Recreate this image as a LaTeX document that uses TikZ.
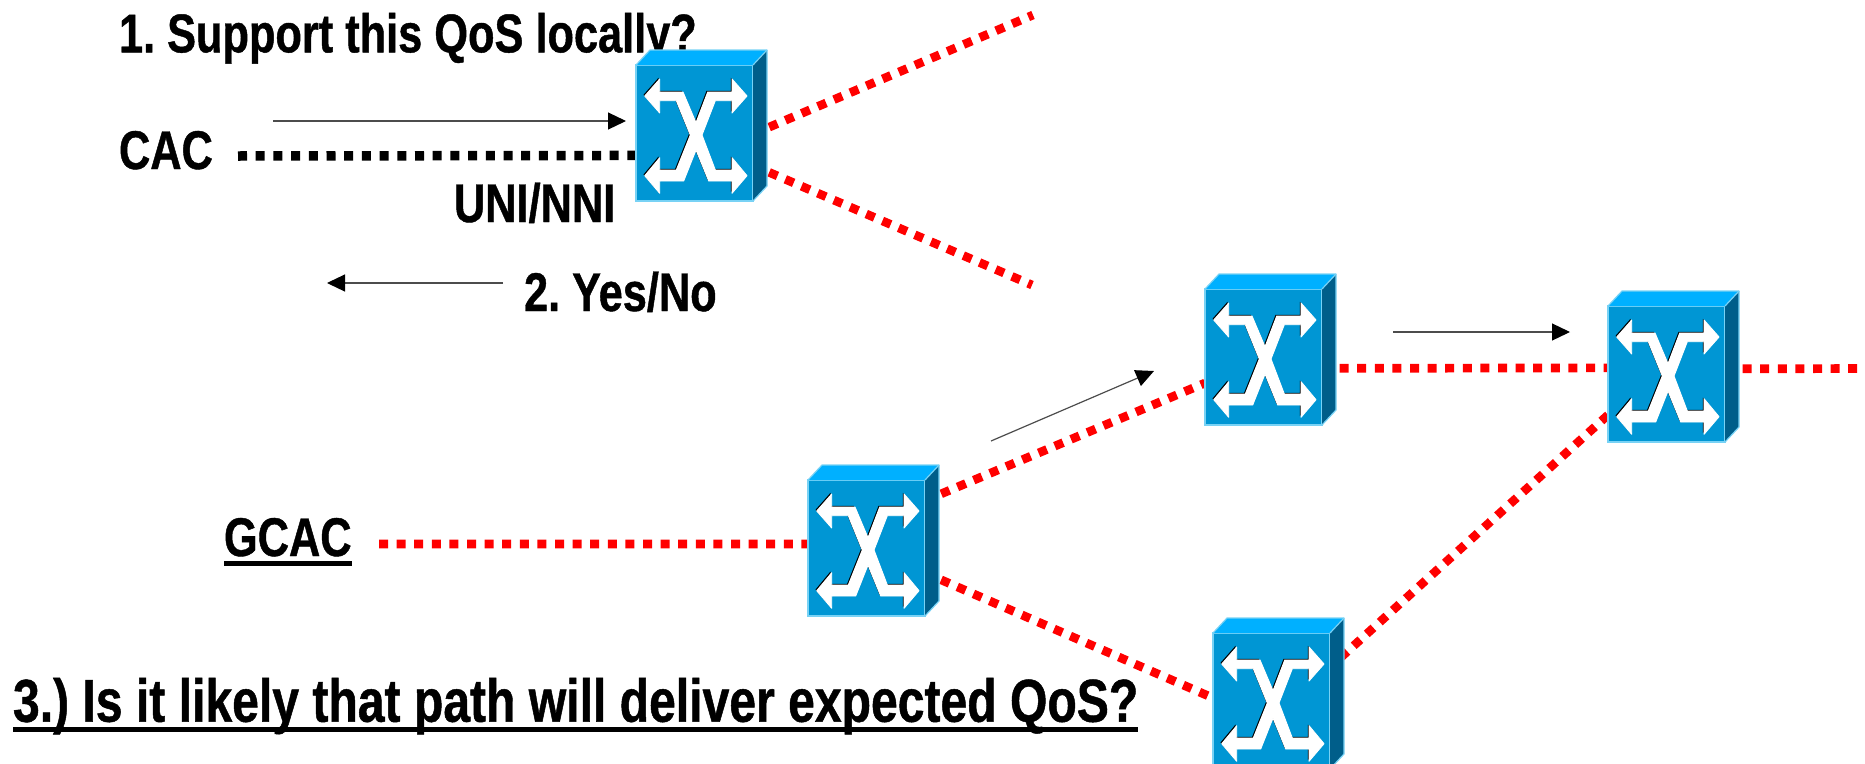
\documentclass[tikz,border=0pt]{standalone}
\usepackage{fontspec}
\setmainfont[FakeStretch=0.795,BoldFeatures={FakeBold=0.8}]{Liberation Sans}
\usetikzlibrary{arrows.meta,backgrounds}
\definecolor{swfront}{RGB}{0,150,212}
\definecolor{swtop}{RGB}{0,176,255}
\definecolor{swside}{RGB}{0,94,138}
\definecolor{swedge}{RGB}{120,210,245}
\tikzset{
  swface/.style={rectangle,minimum width=117pt,minimum height=136pt,inner sep=0pt,outer sep=0pt,fill=swfront,draw=swedge,line width=1.2pt},
  label text/.style={anchor=base west,inner sep=0pt,outer sep=0pt,font=\frenchspacing\bfseries\fontsize{54.5}{60}\selectfont,text=black},
  big text/.style={label text,font=\frenchspacing\bfseries\fontsize{60.5}{66}\selectfont},
  redlink/.style={draw=red,line width=8.7pt,dash pattern=on 9pt off 8.6pt},
  blacklink/.style={draw=black,line width=9.5pt,dash pattern=on 9pt off 8.7pt},
  flow/.style={draw=black!70,line width=1.2pt,-{Triangle[length=18pt,width=17pt,color=black]}},
  rule line/.style={draw=black,line width=4.5pt}
}
\newcommand{\xarrows}{(8.7,31) -- (23.7,14) -- (23.7,27) -- (47,27) -- (60,57.7) -- (71.7,27) -- (96,27) -- (96,14) -- (111,31) -- (96,48) -- (96,35.7) -- (79.3,35.7) -- (66,70) -- (79.3,105) -- (96,105) -- (96,92.7) -- (111,110.7) -- (96,128.3) -- (96,116) -- (72.7,116) -- (60,85) -- (47.7,116) -- (23.7,116) -- (23.7,128.3) -- (8.7,110.7) -- (23.7,92.7) -- (23.7,105) -- (40.3,105) -- (54.3,70) -- (40.3,35.7) -- (23.7,35.7) -- (23.7,48) -- cycle}
\newcommand{\switchbox}[3]{%
  \node[swface] (#1) at (#2+58.5,#3+68) {};
  \begin{scope}[shift={(#2,#3)}]
    \fill[swtop] (0,0) -- (14,-15) -- (131,-15) -- (117,0) -- cycle;
    \fill[swside] (117,0) -- (131,-15) -- (131,121) -- (117,136) -- cycle;
    \draw[swedge,line width=1.2pt,line join=round] (0,0) -- (14,-15) -- (131,-15) -- (131,121) -- (117,136);
    \draw[swedge,line width=1.2pt] (117,0) -- (131,-15);
    \fill[black,shift={(-1.2,-1.2)}] \xarrows;
    \filldraw[white,line width=0.9pt,line join=round] \xarrows;
  \end{scope}}
\begin{document}
\begin{tikzpicture}[x=1pt,y=-1pt]
\useasboundingbox (0,0) rectangle (1865,763);
\clip (0,0) rectangle (1865,763);
\node[label text] (q1) at (119,52.3) {1. Support this QoS locally?};
\node[label text] (cac) at (119,169) {CAC};
\node[label text] (uni) at (454,222) {UNI/NNI};
\node[label text] (yn) at (524,311) {2. Yes/No};
\node[label text] (gcac) at (224,556) {GCAC};
\node[big text] (q3) at (13,721.7) {3.) Is it likely that path will deliver expected QoS?};
\draw[rule line] ([yshift=-7.7pt]gcac.base west) -- ([yshift=-7.7pt]gcac.base east);
\draw[rule line] ([yshift=-7.8pt]q3.base west) -- ([yshift=-7.8pt]q3.base east);
\switchbox{s1}{636}{65}
\switchbox{s2}{808}{480}
\switchbox{s3}{1205}{289}
\switchbox{s4}{1608}{306}
\switchbox{s5}{1213}{633}
\coordinate (cacend) at (238,156);
\coordinate (gcacend) at (379,544);
\coordinate (upend) at (1033,15);
\coordinate (downend) at (1032,285);
\coordinate (rightend) at (1870,368.5);
\coordinate (a1s) at (273,121);
\coordinate (a1e) at (626,121);
\coordinate (a2s) at (503,283);
\coordinate (a2e) at (327,283);
\coordinate (a3s) at (991,441);
\coordinate (a3e) at (1154,371);
\coordinate (a4s) at (1393,332);
\coordinate (a4e) at (1570,332);
\draw[flow] (a1s) -- (a1e);
\draw[flow] (a2s) -- (a2e);
\draw[flow] (a3s) -- (a3e);
\draw[flow] (a4s) -- (a4e);
\begin{scope}[on background layer]
\draw[blacklink] (cacend) -- (s1.201.5);
\draw[redlink] (s1.-1.4) -- (upend);
\draw[redlink] (s1.-29.9) -- (downend);
\draw[redlink] (gcacend) -- (s2.176.1);
\draw[redlink] (s2.39.4) -- (s3.204);
\draw[redlink] (s2.-23.2) -- (s5.177);
\draw[redlink] (s3.-11.1) -- (s4.174.6);
\draw[redlink] (s4.5.4) -- (rightend);
\draw[redlink] (s4.215.7) -- (s5.30.9);
\end{scope}
\end{tikzpicture}
\end{document}
